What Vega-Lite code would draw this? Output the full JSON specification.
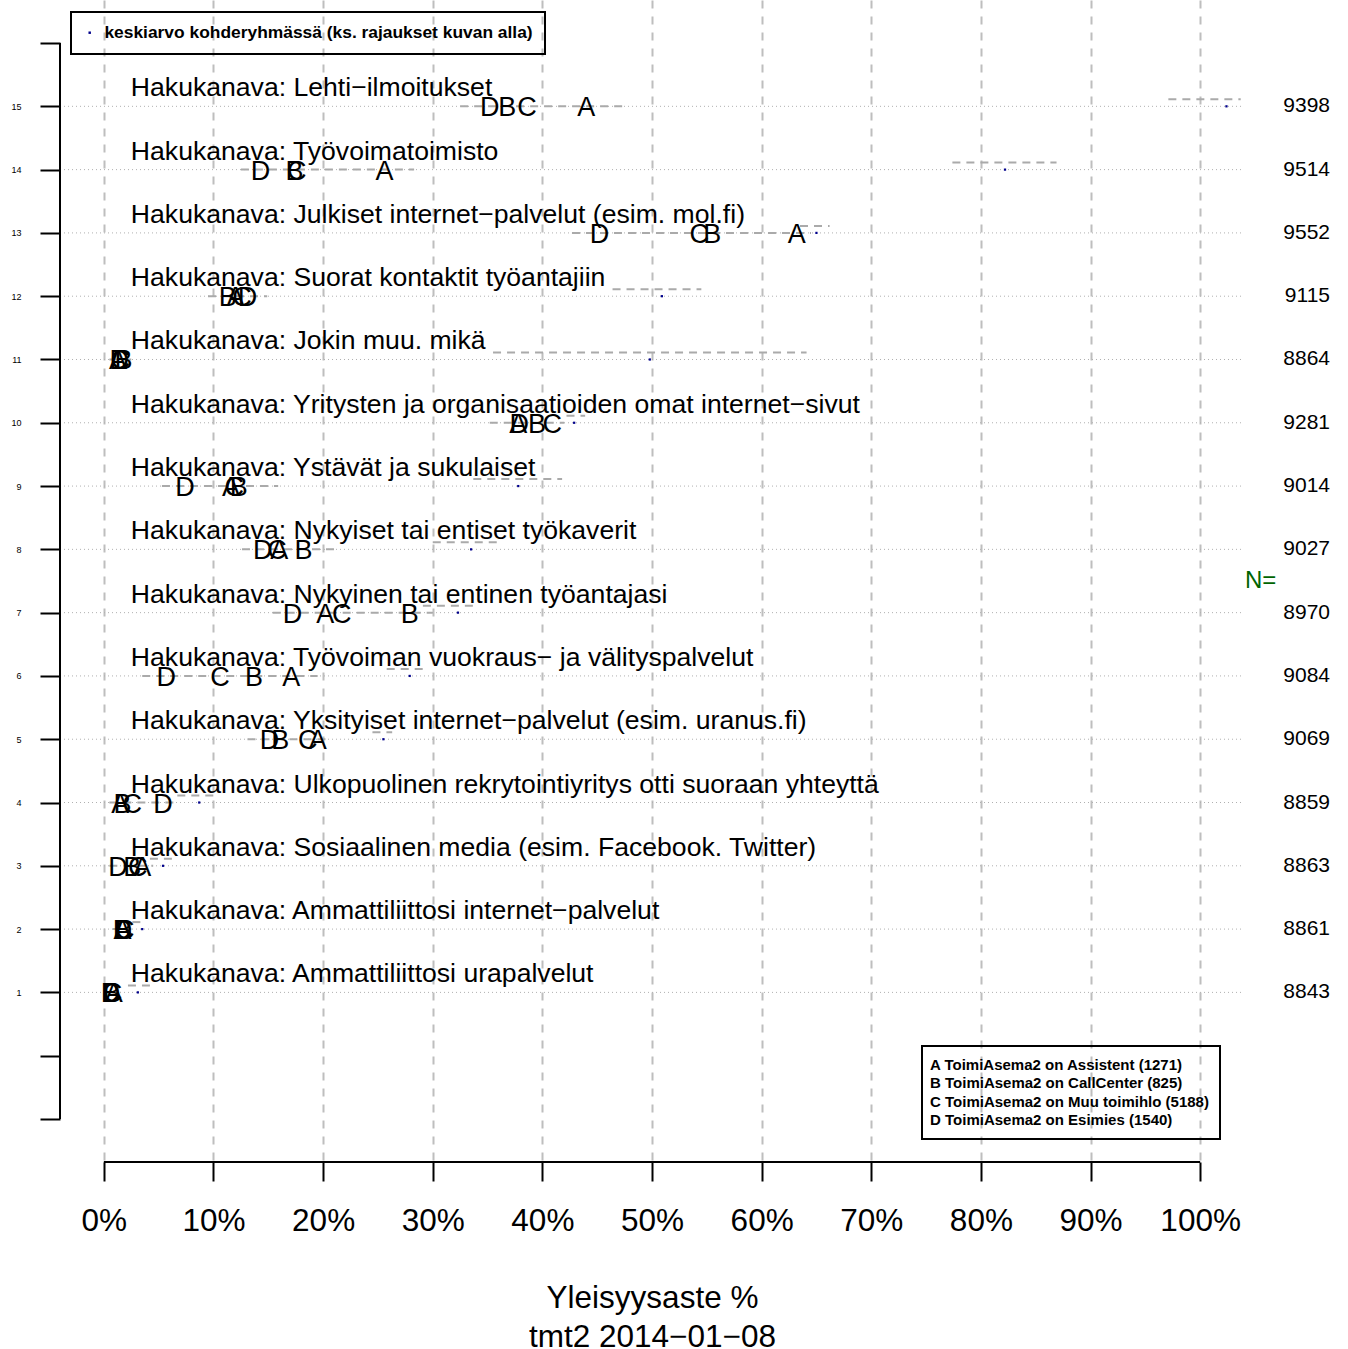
{
  "$schema": "https://vega.github.io/schema/vega-lite/v6.json",
  "width": 1184,
  "height": 1162,
  "autosize": {"type": "none"},
  "padding": {"left": 60, "top": 0, "right": 104, "bottom": 187},
  "background": "white",
  "config": {
    "view": {"stroke": null},
    "font": "Liberation Sans",
    "legend": {"strokeWidth": 2}
  },
  "datasets": {
    "rows": [
      {"row": 15, "label": "Hakukanava: Lehti−ilmoitukset", "n": 9398, "mean": 102.4, "lo": 97.1, "hi": 103.7, "rlo": 32.5, "rhi": 47.3},
      {"row": 14, "label": "Hakukanava: Työvoimatoimisto", "n": 9514, "mean": 82.2, "lo": 77.4, "hi": 86.9, "rlo": 12.5, "rhi": 28.3},
      {"row": 13, "label": "Hakukanava: Julkiset internet−palvelut (esim. mol.fi)", "n": 9552, "mean": 65.0, "lo": 63.5, "hi": 66.2, "rlo": 42.7, "rhi": 64.5},
      {"row": 12, "label": "Hakukanava: Suorat kontaktit työantajiin", "n": 9115, "mean": 50.9, "lo": 46.4, "hi": 54.5, "rlo": 9.5, "rhi": 14.9},
      {"row": 11, "label": "Hakukanava: Jokin muu. mikä", "n": 8864, "mean": 49.8, "lo": 35.5, "hi": 64.1, "rlo": 0.5, "rhi": 2.5},
      {"row": 10, "label": "Hakukanava: Yritysten ja organisaatioiden omat internet−sivut", "n": 9281, "mean": 42.9, "lo": 42.2, "hi": 43.9, "rlo": 35.2, "rhi": 42.0},
      {"row": 9, "label": "Hakukanava: Ystävät ja sukulaiset", "n": 9014, "mean": 37.8, "lo": 33.7, "hi": 41.8, "rlo": 5.3, "rhi": 15.9},
      {"row": 8, "label": "Hakukanava: Nykyiset tai entiset työkaverit", "n": 9027, "mean": 33.5, "lo": 30.0, "hi": 35.9, "rlo": 12.6, "rhi": 21.5},
      {"row": 7, "label": "Hakukanava: Nykyinen tai entinen työantajasi", "n": 8970, "mean": 32.3, "lo": 29.1, "hi": 34.0, "rlo": 15.4, "rhi": 30.0},
      {"row": 6, "label": "Hakukanava: Työvoiman vuokraus− ja välityspalvelut", "n": 9084, "mean": 27.9, "lo": 25.8, "hi": 29.3, "rlo": 3.5, "rhi": 19.5},
      {"row": 5, "label": "Hakukanava: Yksityiset internet−palvelut (esim. uranus.fi)", "n": 9069, "mean": 25.5, "lo": 24.5, "hi": 26.3, "rlo": 13.1, "rhi": 20.6},
      {"row": 4, "label": "Hakukanava: Ulkopuolinen rekrytointiyritys otti suoraan yhteyttä", "n": 8859, "mean": 8.7, "lo": 6.7, "hi": 10.3, "rlo": 0.5, "rhi": 6.5},
      {"row": 3, "label": "Hakukanava: Sosiaalinen media (esim. Facebook. Twitter)", "n": 8863, "mean": 5.4, "lo": 4.2, "hi": 6.3, "rlo": 0.5, "rhi": 4.5},
      {"row": 2, "label": "Hakukanava: Ammattiliittosi internet−palvelut", "n": 8861, "mean": 3.5, "lo": 2.6, "hi": 3.8, "rlo": 0.8, "rhi": 2.5},
      {"row": 1, "label": "Hakukanava: Ammattiliittosi urapalvelut", "n": 8843, "mean": 3.1, "lo": 2.2, "hi": 4.2, "rlo": 0.2, "rhi": 1.5}
    ],
    "letters": [
      {"row": 15, "g": "A", "v": 44.0}, {"row": 15, "g": "B", "v": 36.8}, {"row": 15, "g": "C", "v": 38.6}, {"row": 15, "g": "D", "v": 35.2},
      {"row": 14, "g": "A", "v": 25.6}, {"row": 14, "g": "B", "v": 17.4}, {"row": 14, "g": "C", "v": 17.6}, {"row": 14, "g": "D", "v": 14.3},
      {"row": 13, "g": "A", "v": 63.2}, {"row": 13, "g": "B", "v": 55.5}, {"row": 13, "g": "C", "v": 54.3}, {"row": 13, "g": "D", "v": 45.2},
      {"row": 12, "g": "A", "v": 12.0}, {"row": 12, "g": "B", "v": 11.3}, {"row": 12, "g": "C", "v": 12.6}, {"row": 12, "g": "D", "v": 13.1},
      {"row": 11, "g": "A", "v": 1.3}, {"row": 11, "g": "B", "v": 1.8}, {"row": 11, "g": "C", "v": 1.5}, {"row": 11, "g": "D", "v": 1.4},
      {"row": 10, "g": "A", "v": 37.8}, {"row": 10, "g": "B", "v": 39.5}, {"row": 10, "g": "C", "v": 40.9}, {"row": 10, "g": "D", "v": 37.9},
      {"row": 9, "g": "A", "v": 11.6}, {"row": 9, "g": "B", "v": 12.3}, {"row": 9, "g": "C", "v": 11.9}, {"row": 9, "g": "D", "v": 7.4},
      {"row": 8, "g": "A", "v": 16.0}, {"row": 8, "g": "B", "v": 18.2}, {"row": 8, "g": "C", "v": 15.8}, {"row": 8, "g": "D", "v": 14.5},
      {"row": 7, "g": "A", "v": 20.2}, {"row": 7, "g": "B", "v": 27.9}, {"row": 7, "g": "C", "v": 21.7}, {"row": 7, "g": "D", "v": 17.2},
      {"row": 6, "g": "A", "v": 17.1}, {"row": 6, "g": "B", "v": 13.7}, {"row": 6, "g": "C", "v": 10.6}, {"row": 6, "g": "D", "v": 5.7},
      {"row": 5, "g": "A", "v": 19.5}, {"row": 5, "g": "B", "v": 16.1}, {"row": 5, "g": "C", "v": 18.6}, {"row": 5, "g": "D", "v": 15.1},
      {"row": 4, "g": "A", "v": 1.5}, {"row": 4, "g": "B", "v": 1.7}, {"row": 4, "g": "C", "v": 2.6}, {"row": 4, "g": "D", "v": 5.4},
      {"row": 3, "g": "A", "v": 3.5}, {"row": 3, "g": "B", "v": 2.6}, {"row": 3, "g": "C", "v": 3.1}, {"row": 3, "g": "D", "v": 1.3},
      {"row": 2, "g": "A", "v": 1.7}, {"row": 2, "g": "B", "v": 1.8}, {"row": 2, "g": "C", "v": 1.9}, {"row": 2, "g": "D", "v": 1.7},
      {"row": 1, "g": "A", "v": 0.9}, {"row": 1, "g": "B", "v": 0.7}, {"row": 1, "g": "C", "v": 0.8}, {"row": 1, "g": "D", "v": 0.6}
    ],
    "groups": [
      {"g": "A", "desc": "A ToimiAsema2 on Assistent (1271)"},
      {"g": "B", "desc": "B ToimiAsema2 on CallCenter (825)"},
      {"g": "C", "desc": "C ToimiAsema2 on Muu toimihlo (5188)"},
      {"g": "D", "desc": "D ToimiAsema2 on Esimies (1540)"}
    ]
  },
  "layer": [
    {
      "data": {"name": "rows"},
      "mark": {"type": "rule", "color": "#b0b0b0", "strokeWidth": 1, "strokeDash": [1, 3]},
      "encoding": {
        "x": {"datum": -4, "type": "quantitative", "scale": {"domain": [-4, 104], "nice": false, "zero": false},
          "axis": {"values": [0, 10, 20, 30, 40, 50, 60, 70, 80, 90, 100], "labelExpr": "datum.value + '%'", "domain": false,
            "tickSize": 19, "tickWidth": 2, "tickColor": "black", "labelFontSize": 31.5, "labelColor": "black",
            "labelPadding": 49, "labelBaseline": "alphabetic", "labelFlush": false, "labelOverlap": false,
            "grid": true, "gridDash": [8, 8], "gridColor": "#bebebe", "gridWidth": 2,
            "title": ["Yleisyysaste %", "tmt2 2014−01−08"], "titleFontSize": 31.5, "titleFontWeight": "normal",
            "titleColor": "black", "titleBaseline": "alphabetic", "titleY": 145, "titleLineHeight": 39}},
        "x2": {"datum": 104},
        "y": {"field": "row", "type": "quantitative", "scale": {"domain": [-1.68, 16.68], "nice": false, "zero": false},
          "axis": {"values": [-1, 0, 1, 2, 3, 4, 5, 6, 7, 8, 9, 10, 11, 12, 13, 14, 15, 16], "format": "d",
            "labelExpr": "datum.value >= 1 && datum.value <= 15 ? datum.label : ''", "domain": false, "grid": false,
            "tickSize": 20, "tickWidth": 2, "tickColor": "black", "labelFontSize": 9, "labelPadding": 19,
            "labelColor": "black", "title": null}}
      }
    },
    {
      "data": {"name": "rows"},
      "mark": {"type": "rule", "color": "#aaaaaa", "strokeWidth": 2, "strokeDash": [8, 6]},
      "encoding": {
        "x": {"field": "rlo", "type": "quantitative"},
        "x2": {"field": "rhi"},
        "y": {"field": "row", "type": "quantitative"}
      }
    },
    {
      "data": {"name": "rows"},
      "mark": {"type": "rule", "color": "#aaaaaa", "strokeWidth": 2, "strokeDash": [8, 6], "yOffset": -7},
      "encoding": {
        "x": {"field": "lo", "type": "quantitative"},
        "x2": {"field": "hi"},
        "y": {"field": "row", "type": "quantitative"}
      }
    },
    {
      "data": {"name": "rows"},
      "mark": {"type": "point", "shape": "square", "filled": true, "size": 5, "opacity": 1},
      "encoding": {
        "x": {"field": "mean", "type": "quantitative"},
        "y": {"field": "row", "type": "quantitative"},
        "color": {"datum": "keskiarvo kohderyhmässä (ks. rajaukset kuvan alla)", "type": "nominal",
          "scale": {"range": ["#00008b"]},
          "legend": {"orient": "none", "legendX": 11, "legendY": 12, "title": null, "strokeColor": "black",
            "padding": 12, "symbolType": "square", "symbolSize": 6, "symbolFillColor": "#00008b", "symbolStrokeWidth": 0,
            "symbolOffset": -2, "labelOffset": 6, "labelFontSize": 17.4, "labelFontWeight": "bold", "labelColor": "black",
            "labelLimit": 1000}}
      }
    },
    {
      "data": {"name": "rows"},
      "mark": {"type": "text", "align": "left", "baseline": "alphabetic", "fontSize": 26.6, "dx": 27, "dy": -10, "color": "black"},
      "encoding": {
        "x": {"datum": 0, "type": "quantitative"},
        "y": {"field": "row", "type": "quantitative"},
        "text": {"field": "label"}
      }
    },
    {
      "data": {"name": "letters"},
      "transform": [{"lookup": "g", "from": {"data": {"name": "groups"}, "key": "g", "fields": ["desc"]}}],
      "mark": {"type": "text", "align": "center", "baseline": "alphabetic", "fontSize": 27, "dy": 10},
      "encoding": {
        "x": {"field": "v", "type": "quantitative"},
        "y": {"field": "row", "type": "quantitative"},
        "text": {"field": "g"},
        "color": {"field": "desc", "type": "nominal",
          "scale": {"domain": ["A ToimiAsema2 on Assistent (1271)", "B ToimiAsema2 on CallCenter (825)", "C ToimiAsema2 on Muu toimihlo (5188)", "D ToimiAsema2 on Esimies (1540)"],
            "range": ["black", "black", "black", "black"]},
          "legend": {"orient": "none", "legendX": 862, "legendY": 1046, "title": null, "strokeColor": "black",
            "padding": 11, "symbolOpacity": 0, "symbolSize": 1, "labelOffset": -18, "rowPadding": 2.5,
            "labelFontSize": 15, "labelFontWeight": "bold", "labelColor": "black", "labelLimit": 1000}}
      }
    },
    {
      "data": {"name": "rows"},
      "mark": {"type": "text", "align": "right", "baseline": "middle", "fontSize": 21, "dx": 86, "color": "black"},
      "encoding": {
        "x": {"datum": 104, "type": "quantitative"},
        "y": {"field": "row", "type": "quantitative"},
        "text": {"field": "n"}
      }
    },
    {
      "data": {"values": [{"t": "N="}]},
      "mark": {"type": "text", "align": "left", "baseline": "middle", "fontSize": 24, "dx": 1, "color": "#006400"},
      "encoding": {
        "x": {"datum": 104, "type": "quantitative"},
        "y": {"datum": 7.5, "type": "quantitative"},
        "text": {"field": "t"}
      }
    },
    {
      "data": {"values": [{}]},
      "mark": {"type": "rule", "color": "black", "strokeWidth": 2},
      "encoding": {
        "x": {"datum": 0, "type": "quantitative"},
        "x2": {"datum": 100},
        "y": {"datum": -1.68, "type": "quantitative"}
      }
    },
    {
      "data": {"values": [{}]},
      "mark": {"type": "rule", "color": "black", "strokeWidth": 2},
      "encoding": {
        "x": {"datum": -4, "type": "quantitative"},
        "y": {"datum": -1, "type": "quantitative"},
        "y2": {"datum": 16}
      }
    }
  ],
  "resolve": {"scale": {"color": "independent"}, "legend": {"color": "independent"}}
}
